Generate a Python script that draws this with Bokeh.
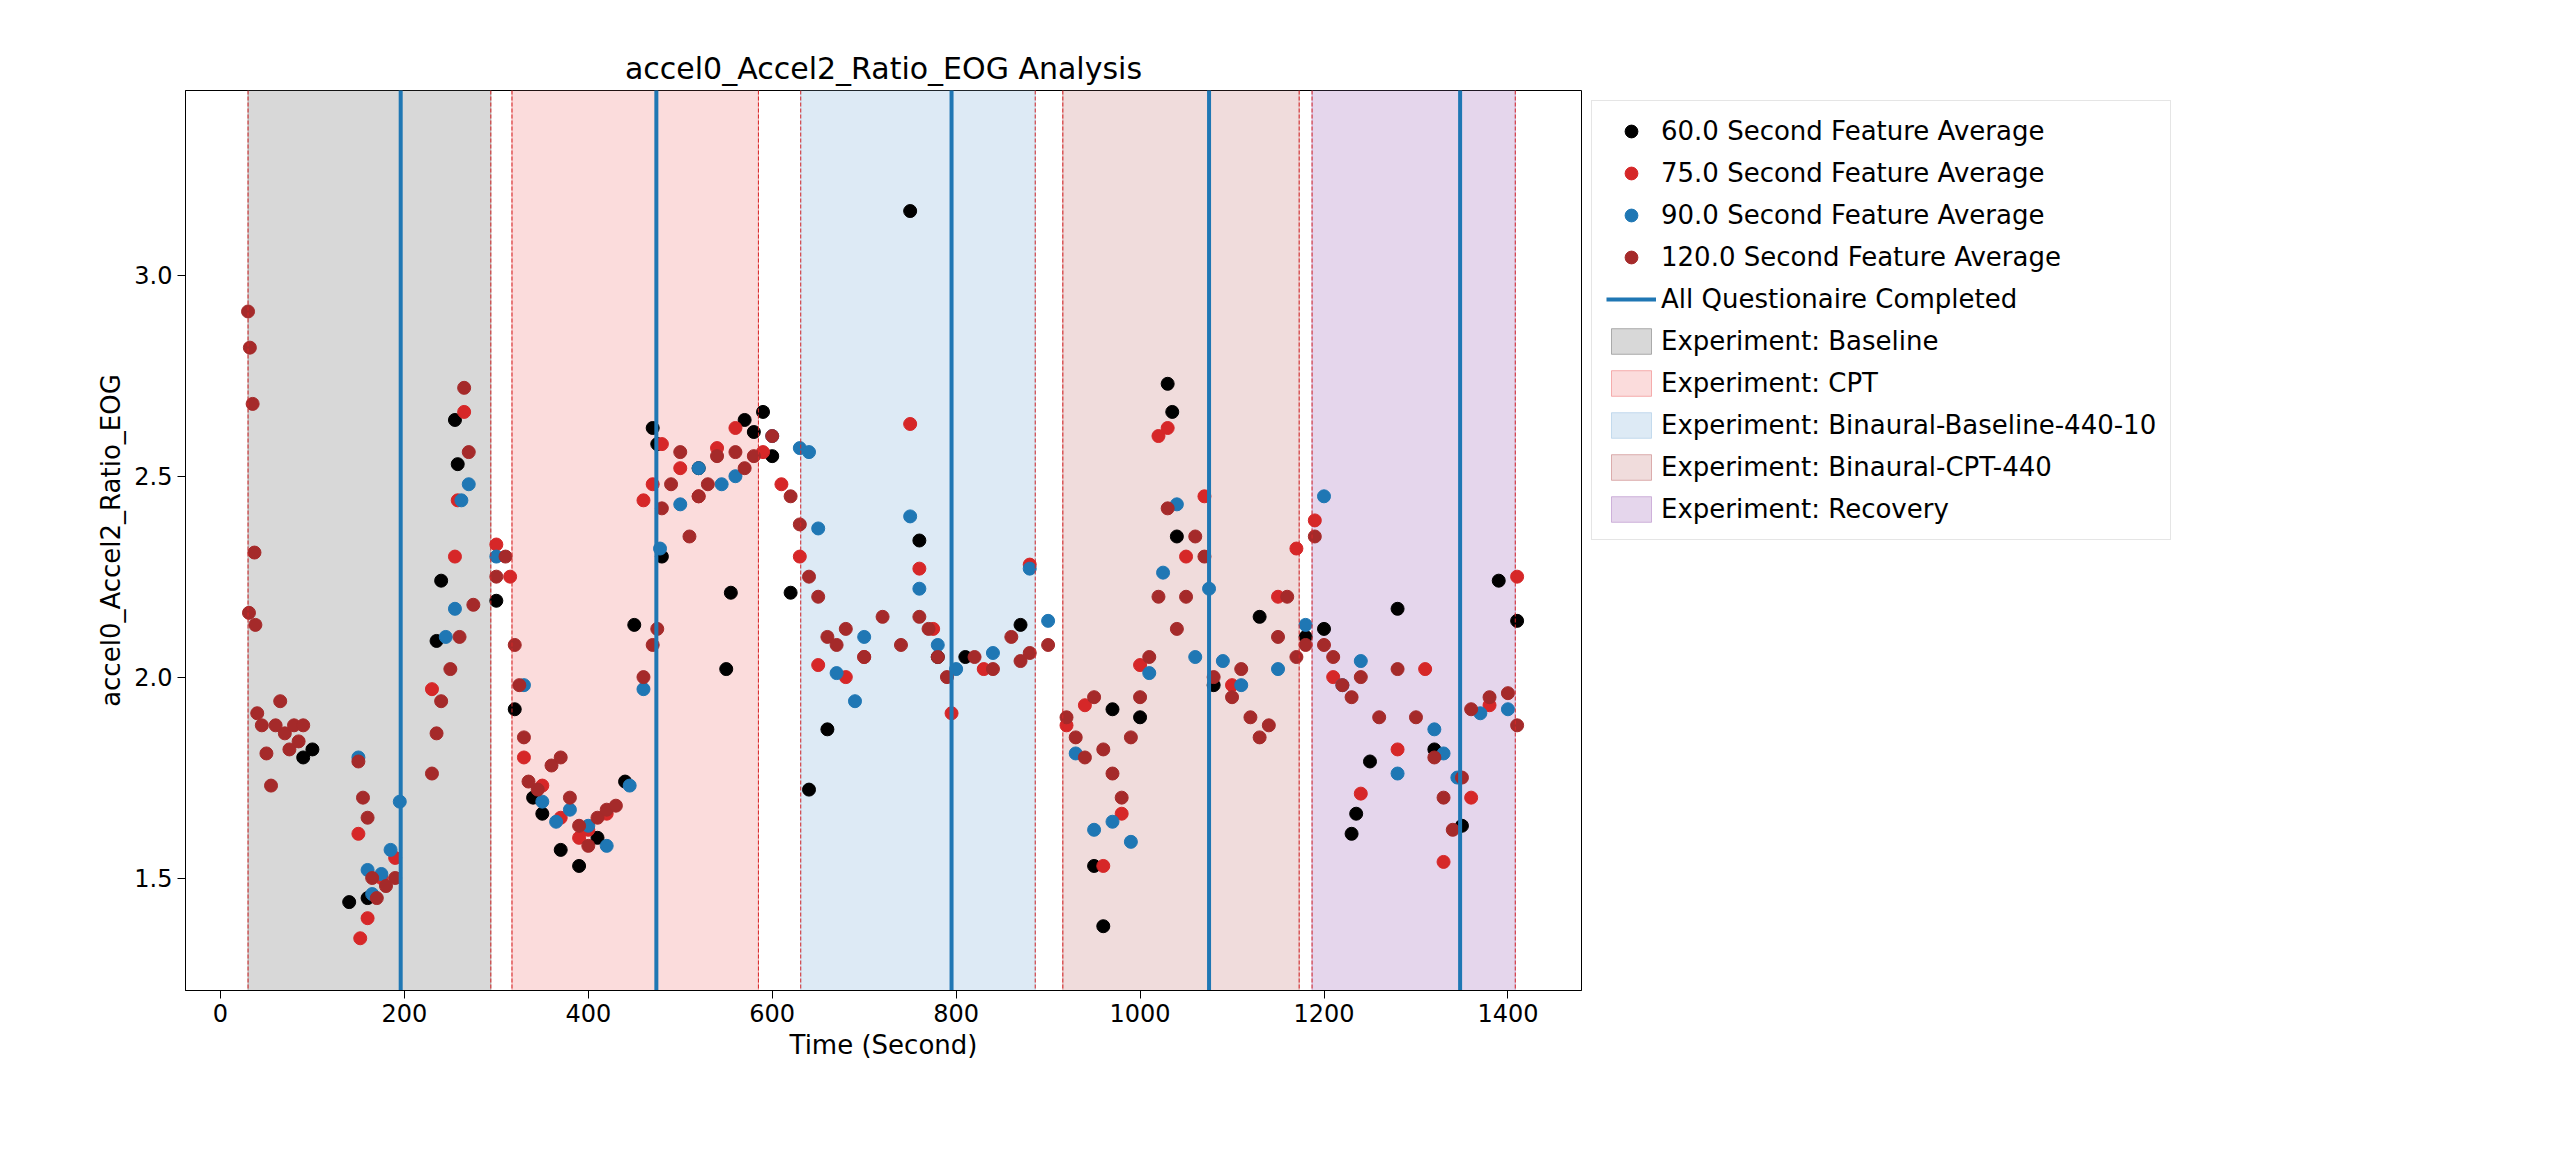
from bokeh.plotting import figure
from bokeh.models import Legend, LegendItem, Span, Range1d, NumeralTickFormatter
from bokeh.embed import file_html
from bokeh.resources import INLINE

# phases (start, end) in seconds
phase_names = ["Baseline", "CPT", "Binaural-Baseline-440-10", "Binaural-CPT-440", "Recovery"]
phase_start = [30, 317, 631, 916, 1187]
phase_end = [294, 585, 886, 1173, 1408]
phase_colors = ["#7f7f7f", "#f08080", "#a6c8e4", "#c88080", "#b58ac8"]
phase_alpha = [0.3, 0.28, 0.38, 0.28, 0.35]
questionnaire = [196, 474, 795, 1075, 1348]

t60 = [90, 100, 140, 160, 235, 240, 255, 258, 300, 320, 340, 350, 370, 390, 410, 440, 450, 470, 475, 480,
       520, 550, 555, 570, 580, 590, 600, 620, 640, 660, 750, 760, 780, 810, 870, 950, 960, 970, 1000, 1030,
       1035, 1040, 1080, 1130, 1180, 1200, 1230, 1235, 1250, 1280, 1320, 1350, 1390, 1410]
v60 = [1.80, 1.82, 1.44, 1.45, 2.09, 2.24, 2.64, 2.53, 2.19, 1.92, 1.70, 1.66, 1.57, 1.53, 1.60, 1.74, 2.13, 2.62, 2.58, 2.30,
       2.52, 2.02, 2.21, 2.64, 2.61, 2.66, 2.55, 2.21, 1.72, 1.87, 3.16, 2.34, 2.05, 2.05, 2.13, 1.53, 1.38, 1.92, 1.90, 2.73,
       2.66, 2.35, 1.98, 2.15, 2.10, 2.12, 1.61, 1.66, 1.79, 2.17, 1.82, 1.63, 2.24, 2.14]

t75 = [150, 152, 160, 175, 190, 230, 255, 258, 265, 300, 315, 330, 350, 370, 390, 400, 420, 460, 470, 480,
       500, 520, 540, 560, 590, 610, 630, 650, 680, 700, 750, 760, 775, 795, 830, 880, 920, 940, 960, 980,
       1000, 1020, 1030, 1050, 1070, 1100, 1150, 1170, 1190, 1210, 1240, 1280, 1310, 1330, 1360, 1380, 1410]
v75 = [1.61, 1.35, 1.40, 1.50, 1.55, 1.97, 2.30, 2.44, 2.66, 2.33, 2.25, 1.80, 1.73, 1.65, 1.60, 1.62, 1.66, 2.44, 2.48, 2.58,
       2.52, 2.45, 2.57, 2.62, 2.56, 2.48, 2.30, 2.03, 2.00, 2.05, 2.63, 2.27, 2.12, 1.91, 2.02, 2.28, 1.88, 1.93, 1.53, 1.66,
       2.03, 2.60, 2.62, 2.30, 2.45, 1.98, 2.20, 2.32, 2.39, 2.00, 1.71, 1.82, 2.02, 1.54, 1.70, 1.93, 2.25]

t90 = [150, 160, 165, 175, 185, 195, 245, 255, 262, 270, 300, 330, 350, 365, 380, 400, 420, 445, 460, 478,
       500, 520, 545, 560, 600, 630, 640, 650, 670, 690, 700, 750, 760, 780, 800, 840, 880, 900, 930, 950,
       970, 990, 1010, 1025, 1040, 1060, 1075, 1090, 1110, 1150, 1180, 1200, 1220, 1240, 1280, 1320, 1330, 1345, 1370, 1400]
v90 = [1.80, 1.52, 1.46, 1.51, 1.57, 1.69, 2.10, 2.17, 2.44, 2.48, 2.30, 1.98, 1.69, 1.64, 1.67, 1.63, 1.58, 1.73, 1.97, 2.32,
       2.43, 2.52, 2.48, 2.50, 2.60, 2.57, 2.56, 2.37, 2.01, 1.94, 2.10, 2.40, 2.22, 2.08, 2.02, 2.06, 2.27, 2.14, 1.81, 1.62,
       1.64, 1.59, 2.01, 2.26, 2.43, 2.05, 2.22, 2.04, 1.98, 2.02, 2.13, 2.45, 1.98, 2.04, 1.76, 1.87, 1.81, 1.75, 1.91, 1.92]

t120 = [30, 32, 35, 37, 31, 38, 40, 45, 50, 55, 60, 65, 70, 75, 80, 85, 90, 150, 155, 160,
        165, 170, 180, 190, 230, 235, 240, 250, 260, 265, 270, 275, 300, 310, 320, 325, 330, 335, 345, 360,
        370, 380, 390, 400, 410, 420, 430, 460, 470, 475, 480, 490, 500, 510, 520, 530, 540, 560, 570, 580,
        600, 620, 630, 640, 650, 660, 670, 680, 700, 720, 740, 760, 770, 780, 790, 820, 840, 860, 870, 880,
        900, 920, 930, 940, 950, 960, 970, 980, 990, 1000, 1010, 1020, 1030, 1040, 1050, 1060, 1070, 1080, 1100, 1110,
        1120, 1130, 1140, 1150, 1160, 1170, 1180, 1190, 1200, 1210, 1220, 1230, 1240, 1260, 1280, 1300, 1320, 1330, 1340, 1350,
        1360, 1380, 1400, 1410]
v120 = [2.91, 2.82, 2.68, 2.31, 2.16, 2.13, 1.91, 1.88, 1.81, 1.73, 1.88, 1.94, 1.86, 1.82, 1.88, 1.84, 1.88, 1.79, 1.70, 1.65,
        1.50, 1.45, 1.48, 1.50, 1.76, 1.86, 1.94, 2.02, 2.10, 2.72, 2.56, 2.18, 2.25, 2.30, 2.08, 1.98, 1.85, 1.74, 1.72, 1.78,
        1.80, 1.70, 1.63, 1.58, 1.65, 1.67, 1.68, 2.00, 2.08, 2.12, 2.42, 2.48, 2.56, 2.35, 2.45, 2.48, 2.55, 2.56, 2.52, 2.55,
        2.60, 2.45, 2.38, 2.25, 2.20, 2.10, 2.08, 2.12, 2.05, 2.15, 2.08, 2.15, 2.12, 2.05, 2.00, 2.05, 2.02, 2.10, 2.04, 2.06,
        2.08, 1.90, 1.85, 1.80, 1.95, 1.82, 1.76, 1.70, 1.85, 1.95, 2.05, 2.20, 2.42, 2.12, 2.20, 2.35, 2.30, 2.00, 1.95, 2.02,
        1.90, 1.85, 1.88, 2.10, 2.20, 2.05, 2.08, 2.35, 2.08, 2.05, 1.98, 1.95, 2.00, 1.90, 2.02, 1.90, 1.80, 1.70, 1.62, 1.75,
        1.92, 1.95, 1.96, 1.88]

FONT = "DejaVu Sans"

p = figure(frame_width=1396, frame_height=900, output_backend="svg", toolbar_location=None,
           title="accel0_Accel2_Ratio_EOG Analysis",
           x_range=Range1d(-38, 1480), y_range=Range1d(1.22, 3.46),
           min_border_left=185, min_border_top=90)
p.title.text_font = FONT
p.title.text_font_size = "30px"
p.title.text_font_style = "normal"
p.title.text_color = "black"
p.title.align = "center"
p.xgrid.visible = False
p.ygrid.visible = False
p.outline_line_color = "black"
p.xaxis.axis_label = "Time (Second)"
p.yaxis.axis_label = "accel0_Accel2_Ratio_EOG"
p.xaxis.ticker = [0, 200, 400, 600, 800, 1000, 1200, 1400]
p.yaxis.ticker = [1.5, 2.0, 2.5, 3.0]
p.yaxis.formatter = NumeralTickFormatter(format="0.0")
for ax in (p.xaxis, p.yaxis):
    ax.axis_label_text_font = FONT
    ax.axis_label_text_font_size = "26px"
    ax.axis_label_text_font_style = "normal"
    ax.axis_label_text_color = "black"
    ax.major_label_text_font = FONT
    ax.major_label_text_font_size = "24px"
    ax.major_label_text_color = "black"
    ax.axis_line_color = "black"
    ax.major_tick_line_color = "black"
    ax.minor_tick_line_color = None
    ax.major_tick_out = 8
    ax.major_tick_in = 0

items = []
phase_items = []
for name, s, e, c, a in zip(phase_names, phase_start, phase_end, phase_colors, phase_alpha):
    r = p.quad(left=[s], right=[e], bottom=[-10], top=[10], fill_color=c, fill_alpha=a,
               line_color=c, line_alpha=0.6, line_width=1)
    phase_items.append(LegendItem(label="Experiment: " + name, renderers=[r]))
    for xv in (s, e):
        p.add_layout(Span(location=xv, dimension="height", line_color="#d62728",
                          line_dash="4 2", line_width=1))

series = [(t60, v60, "black", "60.0"), (t75, v75, "#d62728", "75.0"),
          (t90, v90, "#1f77b4", "90.0"), (t120, v120, "#a52a2a", "120.0")]
for t, v, c, lab in series:
    r = p.scatter(t, v, size=13, fill_color=c, line_color=c)
    items.append(LegendItem(label=lab + " Second Feature Average", renderers=[r]))

qr = None
for q in questionnaire:
    qr = p.line([q, q], [-10, 10], line_color="#1f77b4", line_width=4)
items.append(LegendItem(label="All Questionaire Completed", renderers=[qr]))

legend = Legend(items=items + phase_items, location="top_left")
legend.label_text_font = FONT
legend.label_text_font_size = "26px"
legend.label_text_color = "black"
legend.glyph_width = 50
legend.glyph_height = 32
legend.spacing = 10
legend.padding = 14
legend.border_line_color = "#cccccc"
p.add_layout(legend, "right")

open("out.html", "w").write(file_html(p, INLINE))
